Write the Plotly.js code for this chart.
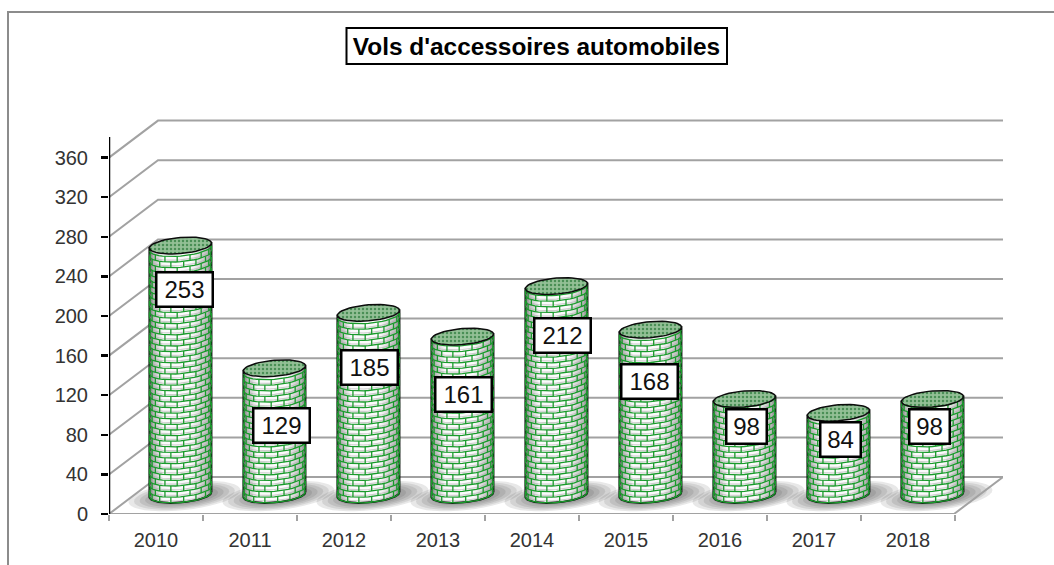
<!DOCTYPE html>
<html lang="fr">
<head>
<meta charset="utf-8">
<title>Vols d'accessoires automobiles</title>
<script src="https://cdn.plot.ly/plotly-3.0.1.min.js"></script>
<style>html,body{margin:0;padding:0;background:#fff}</style>
</head>
<body>
<div id="chart" style="width:1054px;height:565px"></div>
<script>
// Chart content
const chartTitle = "Vols d'accessoires automobiles";
const years = ['2010','2011','2012','2013','2014','2015','2016','2017','2018'];
const values = [253,129,185,161,212,168,98,84,98];
const yTicks = [0,40,80,120,160,200,240,280,320,360];

// Where each value tag sits on the page (pixels)
const tagCentreX = [184,281,369,463,562,649,746,840,929];
const tagCentreY = [289,425,367,394,335,381,426,439,426];

// Pixel geometry of the oblique projection
const plotLeft = 109, plotBottom = 514, plotRight = 1003, plotTop = 115;
const pxPerCat = 94, pxPerUnit = 0.99;
const depthX = 49, depthY = 37;
const radiusX = 31, radiusY = 8, tilt = 2.5;
const centreOffset = 0.76, topLift = 18, baseLift = 19.5;
const brickRow = 5.6, jointStep = 24 * Math.PI / 180;

const toX = p => (p - plotLeft) / pxPerCat;
const toY = p => (plotBottom - p) / pxPerUnit;
const paperX = p => (p - plotLeft) / (plotRight - plotLeft);
const paperY = p => (plotBottom - p) / (plotBottom - plotTop);
const frontX = i => plotLeft + (i + centreOffset) * pxPerCat;
const topY = v => plotBottom - topLift - v * pxPerUnit;

function arc(cx, cy, from, to, n) {
  const xs = [], ys = [];
  for (let j = 0; j <= n; j++) {
    const t = from + (to - from) * j / n;
    xs.push(toX(cx + radiusX * Math.sin(t)));
    ys.push(toY(cy + radiusY * Math.cos(t) - tilt * Math.sin(t)));
  }
  return {xs, ys};
}

const traces = [];
values.forEach((v, i) => {
  const cx = frontX(i), yTop = topY(v), yBase = plotBottom - baseLift;

  // Cylinder side: front arc of the base, then straight up to the top rim
  const front = arc(cx, yBase, Math.PI / 2, -Math.PI / 2, 48);
  const bodyX = front.xs.concat([toX(cx - radiusX), toX(cx + radiusX), front.xs[0]]);
  const bodyY = front.ys.concat([toY(yTop + tilt), toY(yTop - tilt), front.ys[0]]);
  traces.push({
    type: 'scatter', mode: 'lines', x: bodyX, y: bodyY, fill: 'toself', hoverinfo: 'skip',
    line: {color: '#0c0c0c', width: 2},
    fillgradient: {type: 'horizontal', colorscale: [
      [0, '#6a6a6a'], [0.07, '#bcbcbc'], [0.22, '#fbfbfb'], [0.68, '#fbfbfb'], [0.93, '#bcbcbc'], [1, '#707070']
    ]}
  });

  // Brick courses and joints wrapped round the side
  const shadeX = [], shadeY = [], mortarX = [], mortarY = [];
  const rows = Math.floor((yBase - yTop) / brickRow);
  for (let r = 0; r <= rows; r++) {
    const rowY = yBase - r * brickRow;
    const a = arc(cx, rowY, -Math.PI / 2 + 0.03, Math.PI / 2 - 0.03, 20);
    mortarX.push(...a.xs, null); mortarY.push(...a.ys, null);
    if (r < rows) {
      const s = arc(cx, rowY - 1.8, -Math.PI / 2 + 0.03, Math.PI / 2 - 0.03, 20);
      shadeX.push(...s.xs, null); shadeY.push(...s.ys, null);
      const phase = r % 2 ? jointStep / 2 : 0;
      for (let t = -Math.PI / 2 + phase; t < Math.PI / 2; t += jointStep) {
        const jx = toX(cx + radiusX * Math.sin(t));
        const jy = rowY + radiusY * Math.cos(t) - tilt * Math.sin(t);
        mortarX.push(jx, jx, null);
        mortarY.push(toY(jy), toY(jy - brickRow), null);
      }
    }
  }
  traces.push({type: 'scatter', mode: 'lines', x: shadeX, y: shadeY, hoverinfo: 'skip',
    connectgaps: false, line: {color: 'rgba(170,170,170,0.55)', width: 1.2}});
  traces.push({type: 'scatter', mode: 'lines', x: mortarX, y: mortarY, hoverinfo: 'skip',
    connectgaps: false, line: {color: '#1a9a2c', width: 1.3}});

  // Dotted cap
  const cap = arc(cx, yTop, 0, 2 * Math.PI, 48);
  traces.push({
    type: 'scatter', mode: 'lines', x: cap.xs, y: cap.ys, fill: 'toself', hoverinfo: 'skip',
    line: {color: '#0c0c0c', width: 1.5},
    fillpattern: {shape: '.', fgcolor: '#4a8f56', bgcolor: '#93c096', size: 4, solidity: 0.3}
  });
});

const shapes = [];

// Soft floor shadows built from stacked translucent ellipses
values.forEach((v, i) => {
  const cx = frontX(i) + 4, cy = plotBottom - 18;
  for (let s = 0; s < 8; s++) {
    const k = 1 - s * 0.1, pts = [];
    for (let j = 0; j < 40; j++) {
      const t = j / 40 * 2 * Math.PI;
      pts.push(toX(cx + 56 * k * Math.sin(t)) + ' ' + toY(cy + 14 * k * Math.cos(t) - 6 * k * Math.sin(t)));
    }
    shapes.push({type: 'path', layer: 'below', xref: 'x', yref: 'y', line: {width: 0},
      fillcolor: 'rgba(50,50,50,0.11)', path: 'M' + pts.join(' L') + ' Z'});
  }
});

// Left wall and back wall gridlines
const gridColor = '#a2a2a2';
const depthCats = depthX / pxPerCat, depthUnits = depthY / pxPerUnit;
const lastCat = toX(plotRight - depthX);
yTicks.forEach(t => {
  shapes.push({type: 'path', layer: 'below', xref: 'x', yref: 'y', line: {color: gridColor, width: 2},
    path: `M0 ${t} L${depthCats} ${t + depthUnits} L${lastCat + depthCats} ${t + depthUnits}`});
});

// Floor outline
shapes.push({type: 'path', layer: 'below', xref: 'x', yref: 'y', line: {color: gridColor, width: 2},
  path: `M0 0 L${lastCat} 0 L${lastCat + depthCats} ${depthUnits}`});

// Vertical axis line
shapes.push({type: 'line', layer: 'above', xref: 'x', yref: 'y', x0: 0, x1: 0, y0: 0, y1: toY(137),
  line: {color: '#000', width: 2.5}});

// Outer chart frame, open on the right and at the bottom
shapes.push({type: 'path', layer: 'above', xref: 'paper', yref: 'paper', line: {color: '#8c8c8c', width: 2},
  path: `M${paperX(8)} ${paperY(565)} L${paperX(8)} ${paperY(12)} L${paperX(1054)} ${paperY(12)}`});

// Title box
shapes.push({type: 'rect', layer: 'above', xref: 'paper', yref: 'paper',
  x0: paperX(346.5), x1: paperX(727), y0: paperY(64), y1: paperY(28),
  line: {color: '#000', width: 2}, fillcolor: 'rgba(0,0,0,0)'});

const annotations = values.map((v, i) => ({
  xref: 'x', yref: 'y', x: toX(tagCentreX[i]), y: toY(tagCentreY[i]),
  text: String(v), showarrow: false, xanchor: 'center', yanchor: 'middle',
  font: {family: 'Liberation Sans', size: 24, color: '#111'},
  bgcolor: '#fff', bordercolor: '#000', borderwidth: 2.5, borderpad: 0,
  width: v >= 100 ? 54 : 38, height: 32, align: 'center', valign: 'middle'
}));

const layout = {
  width: 1054, height: 565, autosize: false,
  paper_bgcolor: '#fff', plot_bgcolor: 'rgba(0,0,0,0)',
  margin: {l: plotLeft, r: 1054 - plotRight, t: plotTop, b: 565 - plotBottom, pad: 0},
  showlegend: false, hovermode: false,
  title: {
    text: '<b>' + chartTitle + '</b>',
    x: 536.5 / 1054, xanchor: 'center',
    y: 1 - 46 / 565, yanchor: 'middle',
    font: {family: 'Liberation Sans', size: 24.4, color: '#000'}
  },
  xaxis: {
    range: [0, (plotRight - plotLeft) / pxPerCat], fixedrange: true,
    showgrid: false, zeroline: false, showline: false,
    tickmode: 'array', tickvals: years.map((y, i) => i + 0.5), ticktext: years,
    ticks: '', ticklabelstandoff: 12,
    tickfont: {family: 'Liberation Sans', size: 20, color: '#333'},
    minor: {ticks: 'outside', tick0: 0, dtick: 1, ticklen: 6, tickwidth: 2, tickcolor: '#a2a2a2', showgrid: false}
  },
  yaxis: {
    range: [0, (plotBottom - plotTop) / pxPerUnit], fixedrange: true,
    showgrid: false, zeroline: false, showline: false,
    tickmode: 'array', tickvals: yTicks, ticktext: yTicks.map(String),
    ticks: 'outside', ticklen: 7, tickwidth: 2.5, tickcolor: '#000', ticklabelstandoff: 9,
    tickfont: {family: 'Liberation Sans', size: 20, color: '#333'}
  },
  shapes, annotations
};

Plotly.newPlot('chart', traces, layout, {displayModeBar: false, staticPlot: true});
</script>
</body>
</html>
